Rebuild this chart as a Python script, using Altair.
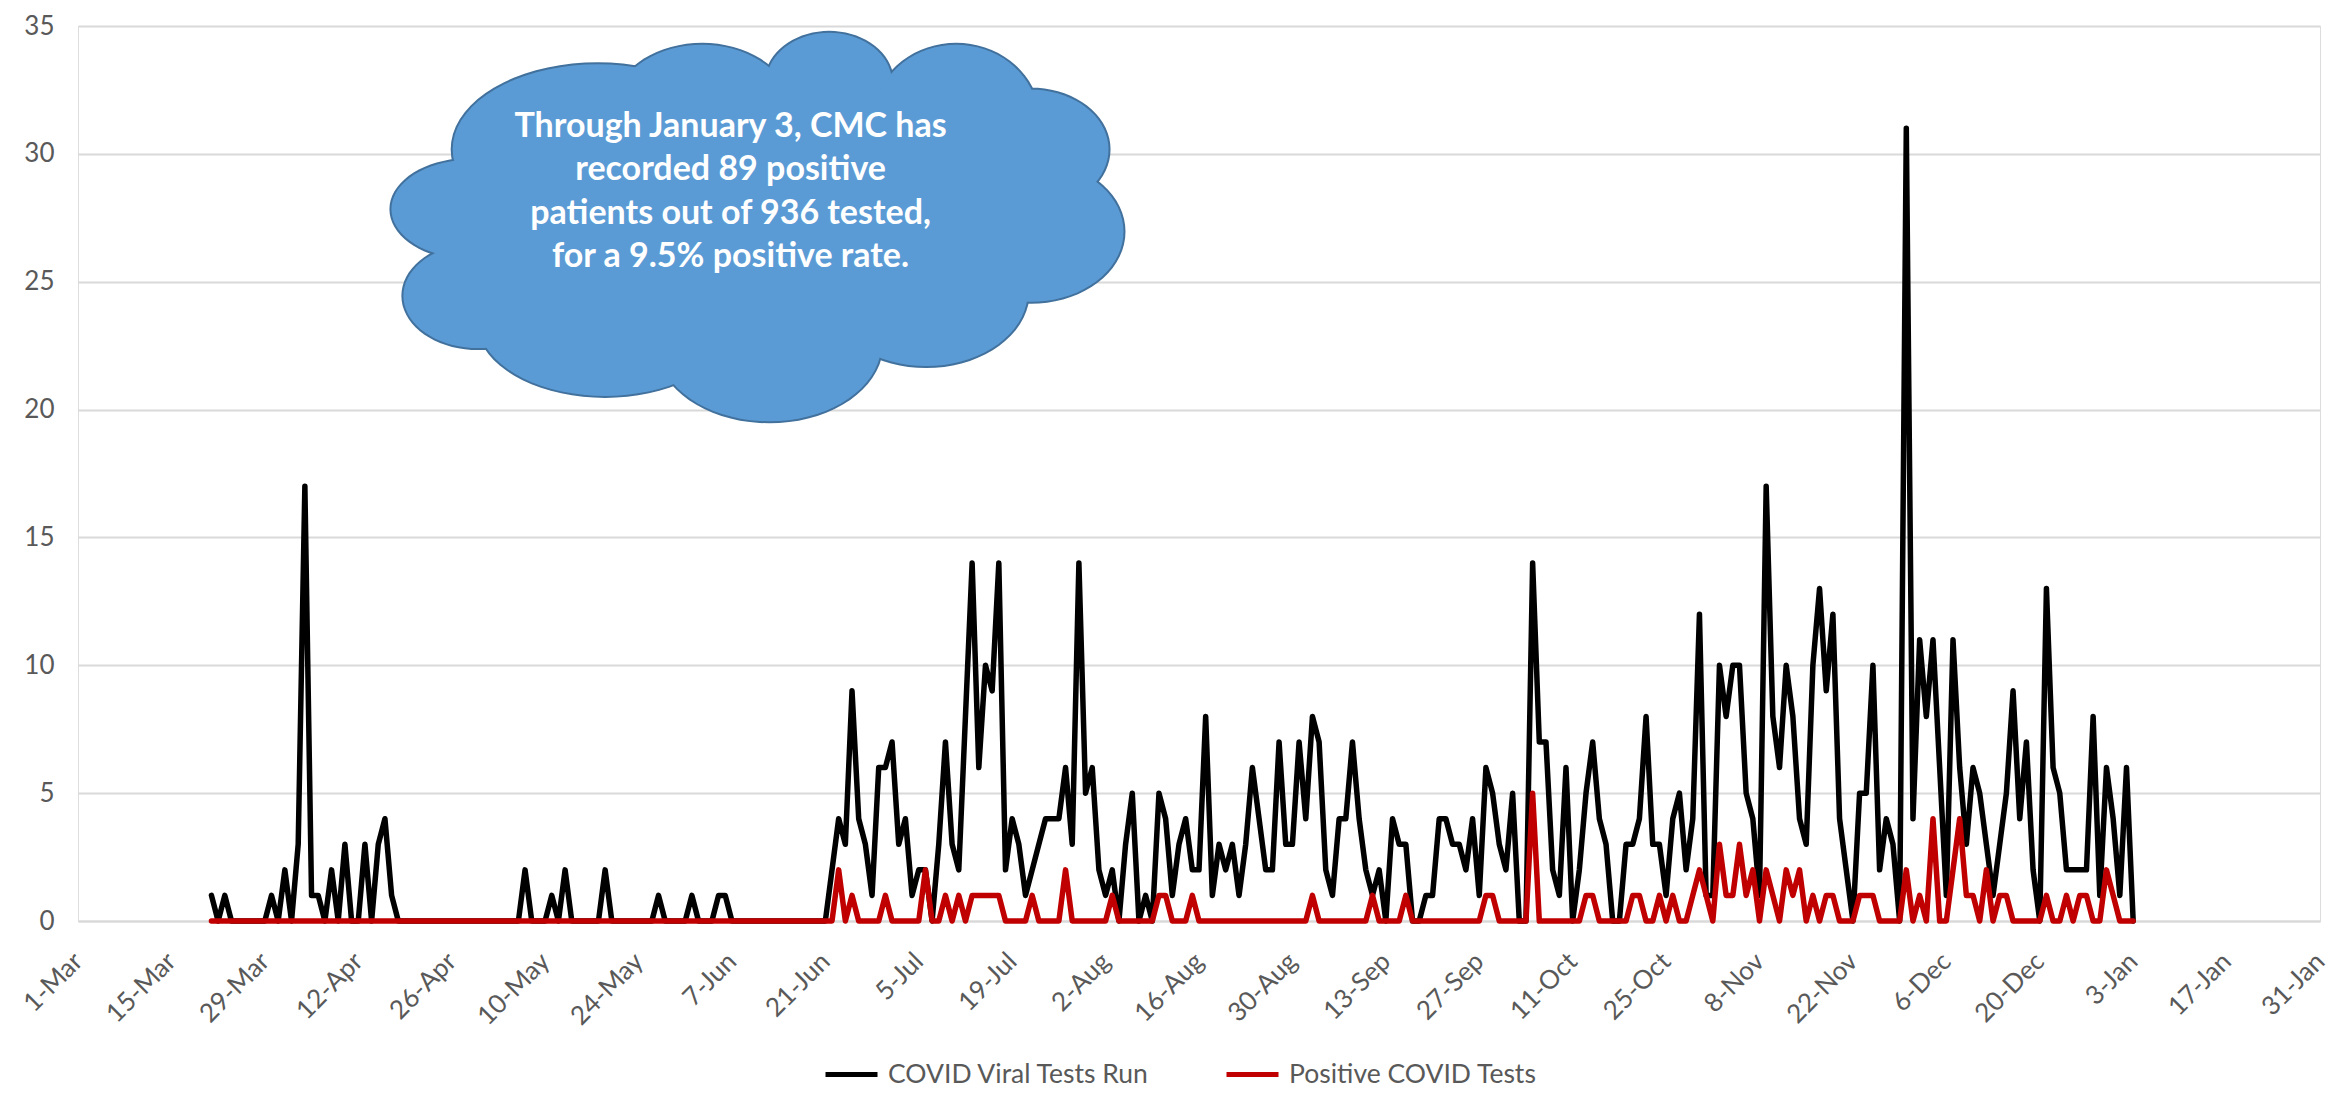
import math
import altair as alt
import pandas as pd

# ---------------- data ----------------
start_date = "2020-03-21"

tests_mar = [1, 0, 1, 0, 0, 0, 0, 0, 0, 1, 0]
tests_apr = [2, 0, 3, 17, 1, 1, 0, 2, 0, 3, 0, 0, 3, 0, 3, 4, 1, 0,
             0, 0, 0, 0, 0, 0, 0, 0, 0, 0, 0, 0]
tests_may = [0, 0, 0, 0, 0, 0, 2, 0, 0, 0, 1, 0, 2, 0, 0, 0, 0, 0, 2, 0,
             0, 0, 0, 0, 0, 0, 1, 0, 0, 0, 0]
tests_jun = [1, 0, 0, 0, 1, 1, 0, 0, 0, 0, 0, 0, 0, 0, 0, 0, 0, 0, 0, 0,
             0, 2, 4, 3, 9, 4, 3, 1, 6, 6]
tests_jul = [7, 3, 4, 1, 2, 2, 0, 3, 7, 3, 2, 8, 14, 6, 10, 9, 14, 2, 4, 3,
             1, 2, 3, 4, 4, 4, 6, 3, 14, 5, 6]
tests_aug = [2, 1, 2, 0, 3, 5, 0, 1, 0, 5, 4, 1, 3, 4, 2, 2, 8, 1, 3, 2,
             3, 1, 3, 6, 4, 2, 2, 7, 3, 3, 7]
tests_sep = [4, 8, 7, 2, 1, 4, 4, 7, 4, 2, 1, 2, 0, 4, 3, 3, 0, 0, 1, 1,
             4, 4, 3, 3, 2, 4, 1, 6, 5, 3]
tests_oct = [2, 5, 0, 0, 14, 7, 7, 2, 1, 6, 0, 2, 5, 7, 4, 3, 0, 0, 3, 3,
             4, 8, 3, 3, 1, 4, 5, 2, 4, 12, 1]
tests_nov = [1, 10, 8, 10, 10, 5, 4, 1, 17, 8, 6, 10, 8, 4, 3, 10, 13, 9, 12, 4,
             2, 0, 5, 5, 10, 2, 4, 3, 0, 31]
tests_dec = [4, 11, 8, 11, 6, 1, 11, 6, 3, 6, 5, 3, 1, 3, 5, 9, 4, 7, 2, 0,
             13, 6, 5, 2, 2, 2, 2, 8, 1, 6, 4]
tests_jan = [1, 6, 0]

pos_mar = [0] * 11
pos_apr = [0] * 30
pos_may = [0] * 31
pos_jun = [0, 0, 0, 0, 0, 0, 0, 0, 0, 0, 0, 0, 0, 0, 0, 0, 0, 0, 0, 0,
           0, 0, 2, 0, 1, 0, 0, 0, 0, 1]
pos_jul = [0, 0, 0, 0, 0, 2, 0, 0, 1, 0, 1, 0, 1, 1, 1, 1, 1, 0, 0, 0,
           0, 1, 0, 0, 0, 0, 2, 0, 0, 0, 0]
pos_aug = [0, 0, 1, 0, 0, 0, 0, 0, 0, 1, 1, 0, 0, 0, 1, 0, 0, 0, 0, 0,
           0, 0, 0, 0, 0, 0, 0, 0, 0, 0, 0]
pos_sep = [0, 1, 0, 0, 0, 0, 0, 0, 0, 0, 1, 0, 0, 0, 0, 1, 0, 0, 0, 0,
           0, 0, 0, 0, 0, 0, 0, 1, 1, 0]
pos_oct = [0, 0, 0, 0, 5, 0, 0, 0, 0, 0, 0, 0, 1, 1, 0, 0, 0, 0, 0, 1,
           1, 0, 0, 1, 0, 1, 0, 0, 1, 2, 1]
pos_nov = [0, 3, 1, 1, 3, 1, 2, 0, 2, 1, 0, 2, 1, 2, 0, 1, 0, 1, 1, 0,
           0, 0, 1, 1, 1, 0, 0, 0, 0, 2]
pos_dec = [0, 1, 0, 4, 0, 0, 2, 4, 1, 1, 0, 2, 0, 1, 1, 0, 0, 0, 0, 0,
           1, 0, 0, 1, 0, 1, 1, 0, 0, 2, 1]
pos_jan = [0, 0, 0]

series_names = ["COVID Viral Tests Run", "Positive COVID Tests"]
series_colors = ["#000000", "#C00000"]

tick_labels = ["2020-03-01", "2020-03-15", "2020-03-29", "2020-04-12", "2020-04-26",
               "2020-05-10", "2020-05-24", "2020-06-07", "2020-06-21", "2020-07-05",
               "2020-07-19", "2020-08-02", "2020-08-16", "2020-08-30", "2020-09-13",
               "2020-09-27", "2020-10-11", "2020-10-25", "2020-11-08", "2020-11-22",
               "2020-12-06", "2020-12-20", "2021-01-03", "2021-01-17", "2021-01-31"]
y_ticks = [0, 5, 10, 15, 20, 25, 30, 35]

callout_lines = ["Through January 3, CMC has",
                 "recorded 89 positive",
                 "patients out of 936 tested,",
                 "for a 9.5% positive rate."]

# ---------------- build table ----------------
tests_run = (tests_mar + tests_apr + tests_may + tests_jun + tests_jul + tests_aug +
             tests_sep + tests_oct + tests_nov + tests_dec + tests_jan)
positives = (pos_mar + pos_apr + pos_may + pos_jun + pos_jul + pos_aug +
             pos_sep + pos_oct + pos_nov + pos_dec + pos_jan)
dates = pd.date_range(start_date, periods=len(tests_run), freq="D")

df = pd.concat([
    pd.DataFrame({"date": dates, "value": tests_run, "series": series_names[0]}),
    pd.DataFrame({"date": dates, "value": positives, "series": series_names[1]}),
], ignore_index=True)


def dt(s):
    t = pd.Timestamp(s)
    return alt.DateTime(year=t.year, month=t.month, date=t.day)


FONT = "Lato"
LABEL_COLOR = "#595959"
GRID = "#D9D9D9"
W, H = 2242, 895
PAD_TOP = 18

lines = alt.Chart(df).mark_line(strokeWidth=5.5, strokeJoin="round", strokeCap="round").encode(
    x=alt.X("date:T",
            scale=alt.Scale(domain=[dt(tick_labels[0]), dt(tick_labels[-1])]),
            axis=alt.Axis(values=[dt(s) for s in tick_labels], format="%-d-%b",
                          labelAngle=315, labelAlign="right", labelBaseline="middle",
                          labelFontSize=26, labelFont=FONT, labelColor=LABEL_COLOR,
                          labelPadding=36, labelOverlap=False, labelFlush=False,
                          grid=False, ticks=False, domain=True, domainColor=GRID,
                          domainWidth=2, title=None)),
    y=alt.Y("value:Q",
            scale=alt.Scale(domain=[0, 35], nice=False),
            axis=alt.Axis(values=y_ticks, grid=True, gridColor=GRID, gridWidth=2,
                          domain=False, ticks=False, labelFontSize=26, labelFont=FONT,
                          labelColor=LABEL_COLOR, labelPadding=24, title=None)),
    color=alt.Color("series:N",
                    scale=alt.Scale(domain=series_names, range=series_colors),
                    legend=alt.Legend(title=None, orient="none", direction="horizontal",
                                      legendX=745, legendY=1020,
                                      symbolType="stroke", symbolSize=2704,
                                      symbolStrokeWidth=5, labelFontSize=26.5,
                                      labelFont=FONT, labelColor=LABEL_COLOR,
                                      labelLimit=500, labelOffset=8, columnPadding=66)),
    order=alt.Order("series:N"),
)

# ---------------- cloud callout (decoration, pixel layout) ----------------
one = pd.DataFrame({"k": [0]})
F = 1.494  # reference-screen to page factor
OX, OY = 78, 8 + PAD_TOP  # plot origin on page
bumps = [  # cx, cy, rx, ry in reduced reference coordinates
    (315, 140, 53, 33), (400, 100, 97, 57), (470, 75, 60, 45), (555, 55, 42, 33),
    (640, 80, 55, 50), (690, 100, 52, 40), (690, 155, 62, 47), (620, 195, 68, 50),
    (515, 230, 75, 52), (405, 215, 85, 50), (320, 198, 50, 35),
]
core = (505, 150, 200, 90)


def ellipse_path(k, n=72):
    pts = []
    for i in range(n):
        t = 2 * math.pi * i / n
        pts.append(f"{math.cos(t):.4f},{k * math.sin(t):.4f}")
    return "M" + " L".join(pts) + " Z"


def ellipse_layer(b, stroke):
    cx, cy, rx, ry = b
    px, py = cx * F - OX, cy * F - OY
    rxp, ryp = rx * F, ry * F
    props = dict(shape=ellipse_path(ryp / rxp), size=(2 * rxp) ** 2, filled=True,
                 fill="#5B9BD5", opacity=1, fillOpacity=1)
    if stroke:
        props.update(stroke="#41719C", strokeWidth=4, strokeOpacity=1)
    else:
        props.update(strokeWidth=0)
    return alt.Chart(one).mark_point(**props).encode(x=alt.value(px), y=alt.value(py))


cloud_layers = [ellipse_layer(b, True) for b in bumps]
cloud_layers += [ellipse_layer(b, False) for b in bumps]
cloud_layers.append(ellipse_layer(core, False))

text_layers = []
for i, line in enumerate(callout_lines):
    text_layers.append(
        alt.Chart(one).mark_text(text=line, font=FONT, fontSize=34, fontWeight="bold",
                                 color="white", align="center", baseline="middle").encode(
            x=alt.value(489 * F - OX), y=alt.value((85 + 29 * i) * F - OY))
    )

chart = alt.layer(lines, *cloud_layers, *text_layers).properties(
    width=W, height=H,
    autosize=alt.AutoSizeParams(type="none"),
    padding={"left": 70, "top": PAD_TOP, "right": 10, "bottom": 166},
).configure_view(stroke=None).configure(background="white")

chart.save("out.html", embed_options={"renderer": "svg", "actions": False})
